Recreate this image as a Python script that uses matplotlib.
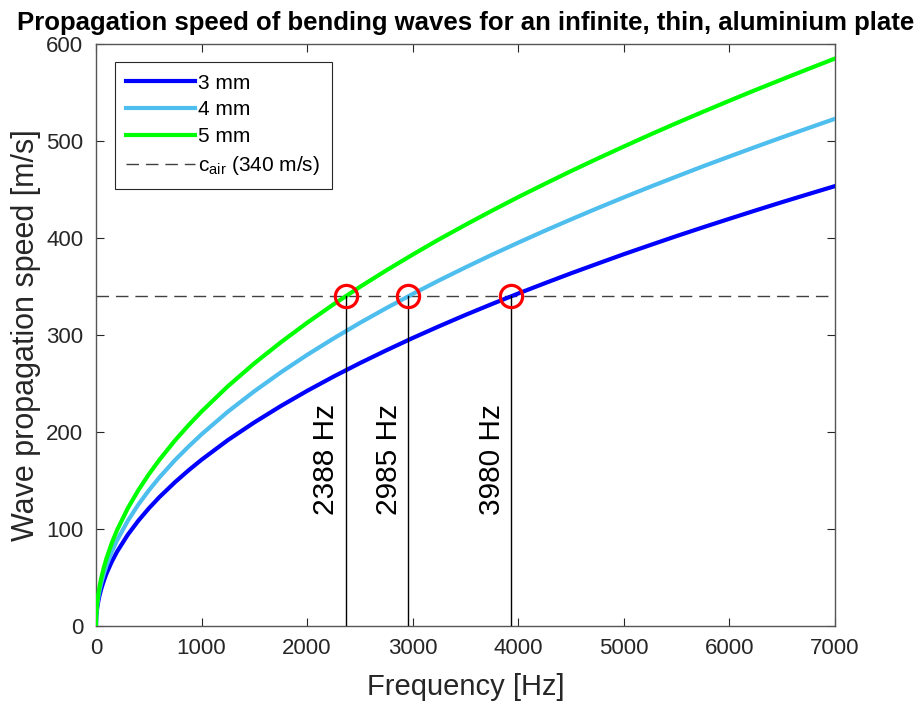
"""Bending wave propagation speed in an aluminium plate vs. coincidence with c_air."""

import matplotlib
matplotlib.use('Agg')
import matplotlib.pyplot as plt

plt.rcParams['font.family'] = ['Liberation Sans', 'DejaVu Sans']
plt.rcParams['mathtext.fontset'] = 'custom'
plt.rcParams['mathtext.rm'] = 'Liberation Sans'
plt.rcParams['mathtext.it'] = 'Liberation Sans:italic'

# ── Data ────────────────────────────────────────────────────────────────────
freq = [0, 2, 5, 10, 15, 25, 35, 50, 75, 100,
        150, 200, 300, 400, 500, 600, 750, 875, 1000,
        1250, 1500, 1750, 2000, 2250, 2500, 2750, 3000,
        3250, 3500, 3750, 4000, 4250, 4500, 4750, 5000,
        5250, 5500, 5750, 6000, 6250, 6500, 6750, 7000]
speed_3mm = [0, 7.7, 12.1, 17.1, 21.0, 27.1, 32.1, 38.3, 46.9, 54.2,
             66.4, 76.7, 93.9, 108.4, 121.2, 132.8, 148.4, 160.3, 171.4,
             191.7, 209.9, 226.7, 242.4, 257.1, 271.0, 284.2, 296.9,
             309.0, 320.7, 331.9, 342.8, 353.3, 363.6, 373.5, 383.3,
             392.7, 402.0, 411.0, 419.8, 428.5, 437.0, 445.3, 453.5]
speed_4mm = [0, 8.8, 14.0, 19.8, 24.2, 31.2, 37.0, 44.2, 54.1, 62.5,
             76.5, 88.4, 108.2, 125.0, 139.7, 153.1, 171.2, 184.8, 197.6,
             221.0, 242.0, 261.4, 279.5, 296.4, 312.5, 327.7, 342.3,
             356.3, 369.7, 382.7, 395.2, 407.4, 419.2, 430.7, 441.9,
             452.8, 463.4, 473.9, 484.0, 494.0, 503.8, 513.4, 522.9]
speed_5mm = [0, 9.9, 15.6, 22.1, 27.1, 35.0, 41.4, 49.4, 60.5, 69.9,
             85.6, 98.9, 121.1, 139.8, 156.3, 171.2, 191.5, 206.8, 221.1,
             247.2, 270.8, 292.4, 312.6, 331.6, 349.6, 366.6, 382.9,
             398.6, 413.6, 428.1, 442.2, 455.7, 469.0, 481.8, 494.3,
             506.6, 518.5, 530.1, 541.5, 552.7, 563.6, 574.4, 585.0]
C_AIR = 340
# crossing frequencies as drawn, and the labels printed next to them
cross_freq = [2365, 2960, 3935]
cross_labels = ['2388 Hz', '2985 Hz', '3980 Hz']

COLOR_3 = '#0000ff'
COLOR_4 = '#4dbeee'
COLOR_5 = '#00ff00'
AX_COLOR = '#262626'

fig = plt.figure(figsize=(9.22, 7.04), dpi=100)
ax = fig.add_axes([0.1041, 0.1108, 0.8015, 0.8267])

for speeds, col, lab in [(speed_3mm, COLOR_3, '3 mm'),
                         (speed_4mm, COLOR_4, '4 mm'),
                         (speed_5mm, COLOR_5, '5 mm')]:
    ax.plot(freq, speeds, color=col, lw=3, label=lab, zorder=3,
            solid_joinstyle='round')
ax.axhline(C_AIR, color='#404040', lw=1, ls=(0, (9, 5)),
           label=r'c$_{\mathrm{air}}$ (340 m/s)', zorder=2)

# vertical drop lines, circles and rotated labels at each crossing
for f, lab in zip(cross_freq, cross_labels):
    ax.plot([f, f], [0, C_AIR], color='black', lw=1, zorder=4)
    ax.plot(f, C_AIR, 'o', ms=16, mfc='none', mec='#ff0000', mew=2.3, zorder=5)
    ax.annotate(lab, xy=(f, 114), xytext=(-4, 0), textcoords='offset points',
                rotation=90, ha='right', va='bottom', fontsize=21.5,
                color='black')

ax.set_xlim(0, 7000)
ax.set_ylim(0, 600)
ax.set_xticks(range(0, 7001, 1000))
ax.set_yticks(range(0, 601, 100))

ax.tick_params(direction='in', length=6, width=0.8, top=True, right=True,
               labelsize=16, colors=AX_COLOR, pad=9)
for spine in ax.spines.values():
    spine.set_color('#555555')
    spine.set_linewidth(1.0)

ax.set_xlabel('Frequency [Hz]', fontsize=21, color=AX_COLOR, labelpad=10)
ax.set_ylabel('Wave propagation speed [m/s]', fontsize=22, color=AX_COLOR,
              labelpad=4)
ax.set_title('Propagation speed of bending waves for an infinite, thin, '
             'aluminium plate', fontsize=18.5, fontweight='bold', pad=10)

leg = ax.legend(loc='upper left', bbox_to_anchor=(0.0257, 0.969),
                borderaxespad=0, fontsize=15, handlelength=3.3,
                handletextpad=0.15, labelspacing=0.38, borderpad=0.55,
                fancybox=False, framealpha=1)
leg.get_frame().set_edgecolor(AX_COLOR)
leg.get_frame().set_linewidth(0.8)

fig.savefig('out.png', dpi=100)
